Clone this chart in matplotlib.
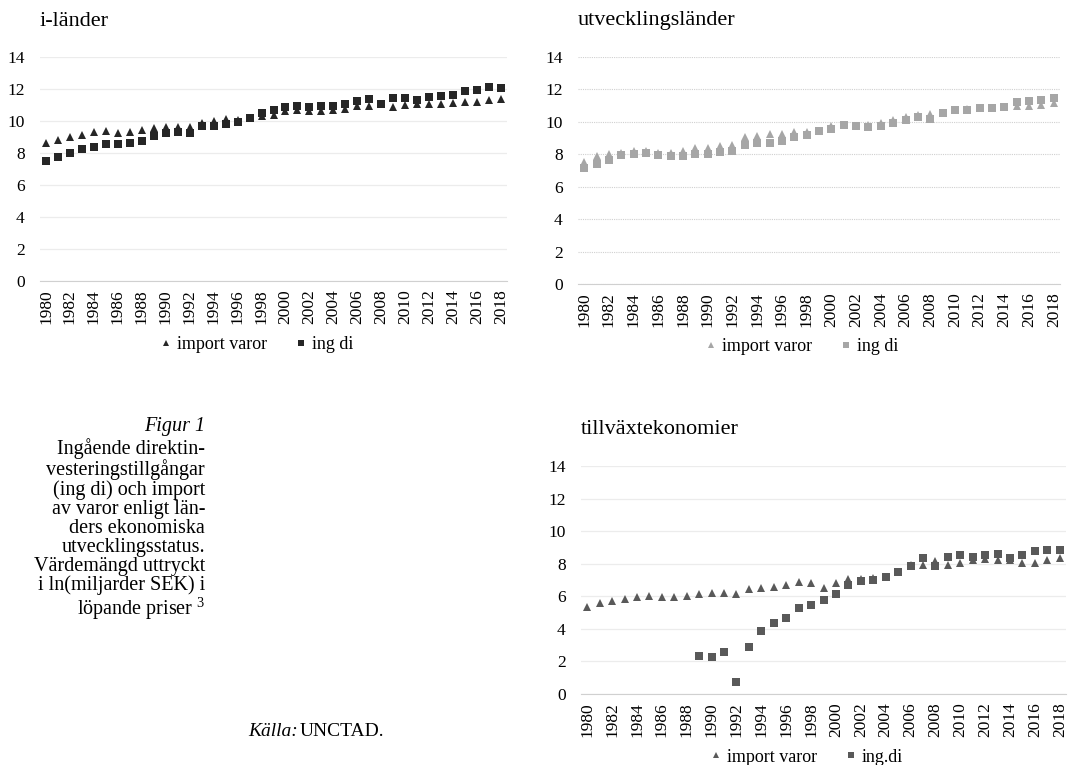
import matplotlib
matplotlib.use("Agg")
import matplotlib.pyplot as plt
from matplotlib.lines import Line2D

plt.rcParams['font.family'] = ['Liberation Serif', 'DejaVu Serif']
plt.rcParams['mathtext.fontset'] = 'custom'
plt.rcParams['mathtext.rm'] = 'Liberation Serif'

years = list(range(1980, 2019))

# i-länder
ilander_import = [8.65, 8.8, 8.97, 9.15, 9.3, 9.36, 9.28, 9.34, 9.44, 9.55,
                  9.6, 9.63, 9.6, 9.88, 10.0, 10.1, 10.08, 10.2, 10.3, 10.4,
                  10.6, 10.67, 10.63, 10.6, 10.67, 10.78, 10.92, 10.96, 11.05, 10.88,
                  11.0, 11.05, 11.07, 11.05, 11.13, 11.19, 11.21, 11.32, 11.4]
ilander_ingdi = [7.47, 7.72, 7.97, 8.22, 8.36, 8.59, 8.59, 8.65, 8.78, 9.09,
                 9.22, 9.34, 9.28, 9.67, 9.71, 9.84, 9.96, 10.21, 10.53, 10.71,
                 10.88, 10.92, 10.88, 10.92, 10.92, 11.09, 11.28, 11.38, 11.09, 11.46,
                 11.46, 11.34, 11.5, 11.57, 11.63, 11.9, 11.96, 12.15, 12.09]

# utvecklingsländer
utv_import = [7.54, 7.87, 7.99, 8.1, 8.2, 8.22, 8.08, 8.06, 8.18, 8.37,
              8.41, 8.49, 8.59, 9.05, 9.13, 9.23, 9.25, 9.4, 9.37, 9.46,
              9.77, 9.8, 9.77, 9.79, 9.93, 10.14, 10.3, 10.42, 10.5, 10.55,
              10.75, 10.8, 10.83, 10.86, 10.94, 10.98, 10.96, 11.04, 11.14]
utv_ingdi = [7.15, 7.42, 7.67, 7.94, 8.02, 8.08, 7.96, 7.92, 7.92, 8.02,
             8.02, 8.12, 8.22, 8.57, 8.7, 8.7, 8.84, 9.07, 9.19, 9.44,
             9.58, 9.83, 9.77, 9.68, 9.77, 9.93, 10.12, 10.3, 10.2, 10.55,
             10.71, 10.71, 10.83, 10.83, 10.94, 11.23, 11.27, 11.37, 11.45]

# tillväxtekonomier (ing di saknas före 1989)
tvx_import = [5.37, 5.56, 5.7, 5.85, 5.97, 6.03, 5.93, 5.93, 6.03, 6.15,
              6.21, 6.21, 6.13, 6.42, 6.52, 6.6, 6.7, 6.85, 6.79, 6.52,
              6.79, 7.05, 7.07, 7.11, 7.21, 7.52, 7.91, 7.93, 8.17, 7.95,
              8.07, 8.2, 8.28, 8.24, 8.22, 8.03, 8.03, 8.24, 8.34]
tvx_ingdi = [None] * 9 + [2.33, 2.27, 2.58, 0.74, 2.88, 3.86, 4.37, 4.66, 5.27, 5.46,
                          5.76, 6.13, 6.68, 6.93, 6.99, 7.17, 7.52, 7.83, 8.34, 7.83,
                          8.4, 8.52, 8.4, 8.52, 8.58, 8.36, 8.52, 8.77, 8.83, 8.83]

panels = [
    ("i-länder", ilander_import, ilander_ingdi, "#262626", "ing di", "solid",
     [40, 57, 507, 281], 345, 255),
    ("utvecklingsländer", utv_import, utv_ingdi, "#a6a6a6", "ing di", "dotted",
     [578, 57, 1060, 284], 347, 800),
    ("tillväxtekonomier", tvx_import, tvx_ingdi, "#595959", "ing.di", "solid",
     [581, 466, 1066, 694], 757, 805),
]

W, H = 1070, 765
fig = plt.figure(figsize=(W / 100, H / 100), dpi=100)


def draw_panel(title, imp, ing, col, ing_label, gstyle, box, leg_y, leg_x):
    x0, y0, x1, y1 = box
    ax = fig.add_axes([x0 / W, 1 - y1 / H, (x1 - x0) / W, (y1 - y0) / H])
    xs = list(range(len(years)))
    ax.plot(xs, imp, linestyle="none", marker="^", ms=5.8, color=col, mew=0)
    pts = [(x, v) for x, v in zip(xs, ing) if v is not None]
    ax.plot([p[0] for p in pts], [p[1] for p in pts], linestyle="none",
            marker="s", ms=5.4, color=col, mew=0)
    ax.set_xlim(-0.5, len(years) - 0.5)
    ax.set_ylim(0, 14)
    ax.set_yticks(range(0, 15, 2))
    ax.set_xticks(xs[::2])
    ax.set_xticklabels([str(y) for y in years[::2]], rotation=90, fontsize=12.5)
    ax.tick_params(axis="y", labelsize=12.5, length=0, pad=11)
    ax.tick_params(axis="x", length=0, pad=6)
    if gstyle == "dotted":
        ax.grid(axis="y", color="#d0d0d0", lw=0.8, linestyle=(0, (1, 1)))
    else:
        ax.grid(axis="y", color="#ececec", lw=0.9)
    ax.set_axisbelow(True)
    for s in ["top", "right", "left"]:
        ax.spines[s].set_visible(False)
    ax.spines["bottom"].set_color("#d0d0d0")
    fig.text(x0 / W, 1 - (y0 - 36) / H, title, fontsize=16, ha="left", va="center")

    handles = [
        Line2D([], [], linestyle="none", marker="^", ms=5, color=col, mew=0),
        Line2D([], [], linestyle="none", marker="s", ms=5, color=col, mew=0),
    ]
    fig.legend(handles, ["import varor", ing_label], loc="center",
               bbox_to_anchor=(leg_x / W, 1 - leg_y / H), ncol=2,
               frameon=False, fontsize=13, handletextpad=0.1, columnspacing=1.4,
               handlelength=1.0)
    return ax


for p in panels:
    draw_panel(*p)

caption = ("Ingående direktin-\nvesteringstillgångar\n(ing di) och import\n"
           "av varor enligt län-\nders ekonomiska\nutvecklingsstatus.\n"
           "Värdemängd uttryckt\ni ln(miljarder SEK) i\nlöpande priser $^3$")
fig.text(205 / W, 1 - 427 / H, "Figur 1", fontsize=14.5, style="italic",
         ha="right", va="center")
fig.text(205 / W, 1 - 438 / H, caption, fontsize=14.5, ha="right", va="top",
         linespacing=1.0, multialignment="right")
fig.text(248 / W, 1 - 731 / H, "Källa:", fontsize=14, style="italic",
         ha="left", va="center")
fig.text(300 / W, 1 - 731 / H, "UNCTAD.", fontsize=14, ha="left", va="center")

fig.savefig("out.png", dpi=100)
